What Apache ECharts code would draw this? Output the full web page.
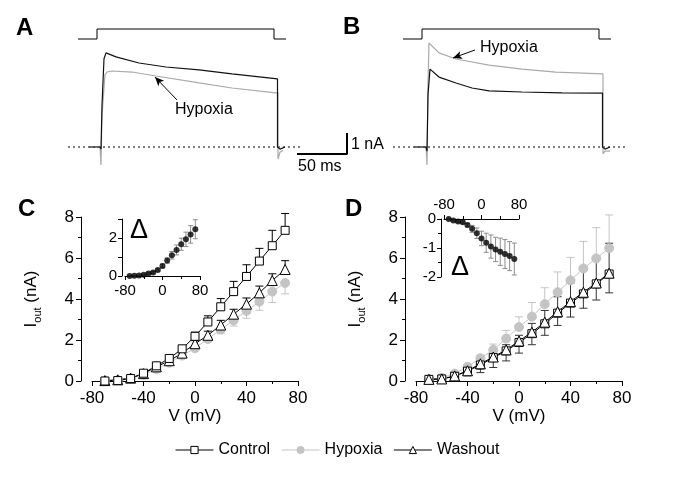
<!DOCTYPE html>
<html><head><meta charset="utf-8">
<script src="https://cdn.jsdelivr.net/npm/echarts/dist/echarts.min.js"></script>
<style>html,body{margin:0;padding:0;background:#fff}#c{width:685px;height:484px}</style>
</head><body><div id="c"></div>
<script>
// ---------- data ----------
const voltages = [-70,-60,-50,-40,-30,-20,-10,0,10,20,30,40,50,60,70];
// Panel C (nA)
const ctrlC    = [0.00,0.02,0.12,0.38,0.74,1.10,1.57,2.18,2.88,3.62,4.36,5.10,5.85,6.60,7.35];
const ctrlCErr = [0.03,0.03,0.05,0.06,0.08,0.10,0.13,0.20,0.30,0.40,0.50,0.57,0.62,0.75,0.82];
const hypC     = [0.01,0.04,0.13,0.31,0.58,0.89,1.24,1.60,2.05,2.51,2.96,3.42,3.87,4.36,4.78];
const hypCErr  = [0.02,0.03,0.04,0.05,0.08,0.10,0.12,0.12,0.15,0.20,0.28,0.36,0.42,0.53,0.53];
const washC    = [0.02,0.06,0.14,0.36,0.69,0.99,1.36,1.82,2.23,2.73,3.26,3.75,4.30,4.90,5.44];
const washCErr = [0.03,0.03,0.05,0.06,0.08,0.10,0.12,0.15,0.20,0.23,0.24,0.30,0.33,0.33,0.43];
const deltaC    = [0.00,0.01,0.02,0.06,0.13,0.19,0.32,0.53,0.81,1.09,1.37,1.67,1.93,2.19,2.46];
const deltaCErr = [0.02,0.02,0.02,0.03,0.04,0.05,0.06,0.10,0.14,0.20,0.26,0.32,0.38,0.46,0.50];
// Panel D (nA)
const ctrlD    = [0.08,0.10,0.23,0.48,0.78,1.14,1.47,1.88,2.31,2.79,3.31,3.80,4.25,4.74,5.22];
const ctrlDErr = [0.05,0.06,0.10,0.15,0.18,0.22,0.30,0.35,0.50,0.65,0.80,0.98,1.15,1.28,1.50];
const washD    = [0.08,0.10,0.25,0.50,0.84,1.17,1.52,1.95,2.38,2.87,3.38,3.87,4.33,4.78,5.26];
const washDErr = [0.05,0.06,0.10,0.25,0.43,0.51,0.54,0.59,0.61,0.64,0.67,0.75,0.78,0.83,0.96];
const hypD     = [0.08,0.15,0.36,0.69,1.11,1.52,2.07,2.63,3.14,3.75,4.33,4.91,5.49,5.98,6.48];
const hypDErr  = [0.04,0.06,0.08,0.10,0.15,0.28,0.39,0.50,0.69,0.80,0.99,1.12,1.32,1.50,1.62];
const deltaD    = [0.00,-0.05,-0.09,-0.11,-0.21,-0.34,-0.49,-0.67,-0.82,-0.95,-1.05,-1.13,-1.21,-1.28,-1.38];
const deltaDErr = [0.02,0.02,0.03,0.04,0.06,0.12,0.18,0.25,0.33,0.40,0.42,0.47,0.50,0.50,0.55];
// Current traces [time ms, current nA]
const cmdStep  = [[-19,0],[0,0],[0,1],[177,1],[177,0],[189,0]];
const baseLine = [[-29,0],[203,0]];
const ctrlTraceA = [[-8,0],[3,0],[4,-0.1],[5,2.0],[7,4.2],[9,4.48],[19,4.29],[42,4.0],[69,3.81],[102,3.67],[135,3.48],[180.5,3.24],[180.5,0],[183,-0.1],[188,0]];
const hypTraceA  = [[-8,0],[3,0],[4,-0.86],[5,1.5],[8,3.45],[10,3.57],[15,3.62],[35,3.57],[59,3.38],[102,3.05],[135,2.81],[181,2.57],[181,-0.57],[183,-0.25],[186,-0.15]];
const ctrlTraceB = [[-8,0],[4,0],[5,-0.2],[6,2.5],[8,3.71],[17,3.33],[34,3.05],[50,2.81],[67,2.67],[100,2.62],[140,2.58],[180.5,2.57],[180.5,0],[183,-0.1],[188,0]];
const hypTraceB  = [[-8,0],[4,0],[5,-0.86],[6,3.0],[7,4.95],[17,4.48],[34,4.19],[67,3.9],[100,3.71],[134,3.57],[181,3.48],[181,-0.33],[183,-0.2],[188,-0.2]];
const scaleBar = [[200,-0.33],[250,-0.33],[250,0.67]];
const legendNames = ['Control','Hypoxia','Washout'];

// ---------- chart ----------
const FONT = 'Liberation Sans, Arial, Helvetica, sans-serif';
const GRAY = '#c4c4c4';
const chart = echarts.init(document.getElementById('c'), null, {renderer:'canvas'});

const pairs = (xs, ys) => xs.map((x,i)=>[x, ys[i]]);
const errUp = (ys, es) => voltages.map((x,i)=>[x, ys[i], ys[i]+es[i]]);
const errDn = (ys, es) => voltages.map((x,i)=>[x, ys[i], ys[i]-es[i]]);
const errBoth = (ys, es) => errUp(ys,es).concat(errDn(ys,es));

function errSeries(data, xi, yi, color, capW){
  return {type:'custom', xAxisIndex:xi, yAxisIndex:yi, data:data, silent:true, z:1,
    renderItem:function(p, api){
      const x=api.value(0), a=api.value(1), b=api.value(2);
      const p0=api.coord([x,a]), p1=api.coord([x,b]);
      return {type:'group', children:[
        {type:'line', shape:{x1:p0[0],y1:p0[1],x2:p1[0],y2:p1[1]}, style:{stroke:color,lineWidth:1}},
        {type:'line', shape:{x1:p1[0]-capW/2,y1:p1[1],x2:p1[0]+capW/2,y2:p1[1]}, style:{stroke:color,lineWidth:1}}
      ]};
    }};
}
function lineSeries(name, data, xi, yi, sym, size, fill, stroke, lineColor){
  return {type:'line', name:name, xAxisIndex:xi, yAxisIndex:yi, data:data, symbol:sym, symbolSize:size,
    showAllSymbol:true, z:3,
    itemStyle:{color:fill, borderColor:stroke, borderWidth:1, opacity:1},
    lineStyle:{color:lineColor, width:1}, emphasis:{disabled:true}};
}
function hidX(gi,min,max){ return {type:'value', gridIndex:gi, min:min, max:max, show:false}; }
function hidY(gi,min,max){ return {type:'value', gridIndex:gi, min:min, max:max, show:false}; }
const axLine = {show:true, onZero:false, lineStyle:{color:'#000', width:1}};
function mainX(gi){
  return {type:'value', gridIndex:gi, min:-80, max:80, interval:40,
    axisLine:axLine, axisTick:{show:true, inside:false, length:5, lineStyle:{color:'#000'}},
    minorTick:{show:true, splitNumber:2, length:3, lineStyle:{color:'#000'}},
    splitLine:{show:false}, minorSplitLine:{show:false},
    axisLabel:{color:'#000', fontSize:17, fontFamily:FONT, margin:9, showMinLabel:true, showMaxLabel:true},
    name:'V (mV)', nameLocation:'middle', nameGap:24, nameTextStyle:{color:'#000', fontSize:17, fontFamily:FONT}};
}
function mainY(gi){
  return {type:'value', gridIndex:gi, min:0, max:8, interval:2, offset:11,
    axisLine:axLine, axisTick:{show:true, inside:false, length:5, lineStyle:{color:'#000'}},
    minorTick:{show:true, splitNumber:2, length:3, lineStyle:{color:'#000'}},
    splitLine:{show:false}, minorSplitLine:{show:false},
    axisLabel:{color:'#000', fontSize:17, fontFamily:FONT, margin:7, showMinLabel:true, showMaxLabel:true},
    name:'{i|I}{s|out}{i| (nA)}', nameLocation:'middle', nameRotate:90, nameGap:38,
    nameTextStyle:{color:'#000', fontFamily:FONT, rich:{
      i:{fontSize:17, lineHeight:23, fontFamily:FONT, color:'#000'},
      s:{fontSize:11, lineHeight:11, fontFamily:FONT, color:'#000', verticalAlign:'bottom'}}}};
}
function insetX(gi, pos){
  return {type:'value', gridIndex:gi, min:-80, max:80, interval:80, position:pos,
    axisLine:axLine, axisTick:{show:true, inside:false, length:4, lineStyle:{color:'#000'}},
    minorTick:{show:true, splitNumber:2, length:3, lineStyle:{color:'#000'}},
    splitLine:{show:false}, minorSplitLine:{show:false},
    axisLabel:{color:'#000', fontSize:15, fontFamily:FONT, margin:7, showMinLabel:true, showMaxLabel:true}};
}
function insetY(gi, min, max, fmt, minor){
  return {type:'value', gridIndex:gi, min:min, max:max, interval:1, offset:3,
    axisLine:axLine, axisTick:{show:true, inside:false, length:4, lineStyle:{color:'#000'}},
    minorTick:{show:minor, splitNumber:2, length:3, lineStyle:{color:'#000'}},
    splitLine:{show:false}, minorSplitLine:{show:false},
    axisLabel:{color:'#000', fontSize:15, fontFamily:FONT, margin:5, showMinLabel:true, showMaxLabel:true, formatter:fmt}};
}
function txt(t, x, y, size, bold){
  return {type:'text', x:x, y:y, silent:true, style:{text:t, fill:'#000',
    font:(bold?'bold ':'')+size+'px '+FONT, textAlign:'left', textVerticalAlign:'middle'}};
}

const option = {
  animation:false,
  backgroundColor:'#fff',
  grid:[
    {left:68, top:24, width:289, height:20},   // 0 cmd A
    {left:68, top:21, width:289, height:147},  // 1 trace A
    {left:393, top:24, width:232, height:20},  // 2 cmd B
    {left:393, top:21, width:232, height:147}, // 3 trace B
    {left:92, top:217, width:206, height:164}, // 4 C main
    {left:125, top:219, width:75, height:57},  // 5 C inset
    {left:416, top:217, width:206, height:164},// 6 D main
    {left:444, top:219, width:75, height:58}   // 7 D inset
  ],
  xAxis:[hidX(0,-29,260), hidX(1,-29,260), hidX(2,-29,203), hidX(3,-29,203),
         mainX(4), insetX(5,'bottom'), mainX(6), insetX(7,'top')],
  yAxis:[hidY(0,-0.5,1.5), hidY(1,-1,6), hidY(2,-0.5,1.5), hidY(3,-1,6),
         mainY(4), insetY(5,0,3,v=>(v%2===0?String(v):''),false), mainY(6), insetY(7,-2,0,v=>String(v),true)],
  legend:{data:legendNames, left:175, top:442, padding:0, itemWidth:38, itemHeight:9, itemGap:11,
    lineStyle:{width:1}, itemStyle:{borderWidth:1},
    textStyle:{color:'#000', fontSize:16, fontFamily:FONT}, selectedMode:false},
  graphic:[
    txt('A', 16, 28, 24, true),
    txt('B', 343, 27, 24, true),
    txt('C', 18, 209, 24, true),
    txt('D', 345, 209, 24, true),
    txt('Hypoxia', 175, 110, 16),
    txt('Hypoxia', 480, 48, 16),
    txt('50 ms', 298, 167, 16),
    txt('1 nA', 351, 145, 16),
    txt('\u0394', 130, 231, 27),
    txt('\u0394', 451, 268, 27)
  ],
  series:[
    {type:'line', xAxisIndex:0, yAxisIndex:0, data:cmdStep, symbol:'none', lineStyle:{color:'#000',width:1}},
    {type:'line', xAxisIndex:1, yAxisIndex:1, data:baseLine, symbol:'none', lineStyle:{color:'#000',width:1,type:[2,3]}},
    {type:'line', xAxisIndex:1, yAxisIndex:1, data:hypTraceA, symbol:'none', lineStyle:{color:'#aaaaaa',width:1.2}},
    {type:'line', xAxisIndex:1, yAxisIndex:1, data:ctrlTraceA, symbol:'none', lineStyle:{color:'#111',width:1.2},
      markLine:{silent:true, symbol:['none','arrow'], symbolSize:[6,9], label:{show:false}, lineStyle:{color:'#000',width:1,type:'solid'},
        data:[[{coord:[80,2.24]},{coord:[58,3.33]}]]}},
    {type:'line', xAxisIndex:1, yAxisIndex:1, data:scaleBar, symbol:'none', lineStyle:{color:'#000',width:2}},
    {type:'line', xAxisIndex:2, yAxisIndex:2, data:cmdStep, symbol:'none', lineStyle:{color:'#000',width:1}},
    {type:'line', xAxisIndex:3, yAxisIndex:3, data:baseLine, symbol:'none', lineStyle:{color:'#000',width:1,type:[2,3]}},
    {type:'line', xAxisIndex:3, yAxisIndex:3, data:hypTraceB, symbol:'none', lineStyle:{color:'#aaaaaa',width:1.2},
      markLine:{silent:true, symbol:['none','arrow'], symbolSize:[6,9], label:{show:false}, lineStyle:{color:'#000',width:1,type:'solid'},
        data:[[{coord:[53,4.62]},{coord:[31,4.24]}]]}},
    {type:'line', xAxisIndex:3, yAxisIndex:3, data:ctrlTraceB, symbol:'none', lineStyle:{color:'#111',width:1.2}},
    // C main
    errSeries(errDn(hypC,hypCErr),4,4,GRAY,8),
    errSeries(errUp(washC,washCErr),4,4,'#000',8),
    errSeries(errUp(ctrlC,ctrlCErr),4,4,'#000',8),
    lineSeries('Hypoxia', pairs(voltages,hypC),4,4,'circle',9,GRAY,GRAY,GRAY),
    lineSeries('Washout', pairs(voltages,washC),4,4,'triangle',10,'#fff','#000','#000'),
    lineSeries('Control', pairs(voltages,ctrlC),4,4,'rect',8,'#fff','#000','#000'),
    // C inset
    errSeries(errBoth(deltaC,deltaCErr),5,5,'#8c8c8c',5),
    {type:'scatter', xAxisIndex:5, yAxisIndex:5, data:pairs(voltages,deltaC), symbol:'circle', symbolSize:6, itemStyle:{color:'#000'}, z:3},
    // D main
    errSeries(errUp(hypD,hypDErr),6,6,GRAY,8),
    errSeries(errUp(ctrlD,ctrlDErr),6,6,'#333',8),
    errSeries(errDn(washD,washDErr),6,6,'#333',8),
    lineSeries('Hypoxia', pairs(voltages,hypD),6,6,'circle',9,GRAY,GRAY,GRAY),
    lineSeries('Control', pairs(voltages,ctrlD),6,6,'rect',8,'#fff','#000','#000'),
    lineSeries('Washout', pairs(voltages,washD),6,6,'triangle',10,'#fff','#000','#000'),
    // D inset
    errSeries(errBoth(deltaD,deltaDErr),7,7,'#8c8c8c',5),
    {type:'scatter', xAxisIndex:7, yAxisIndex:7, data:pairs(voltages,deltaD), symbol:'circle', symbolSize:6, itemStyle:{color:'#000'}, z:3}
  ]
};
chart.setOption(option);
</script></body></html>
